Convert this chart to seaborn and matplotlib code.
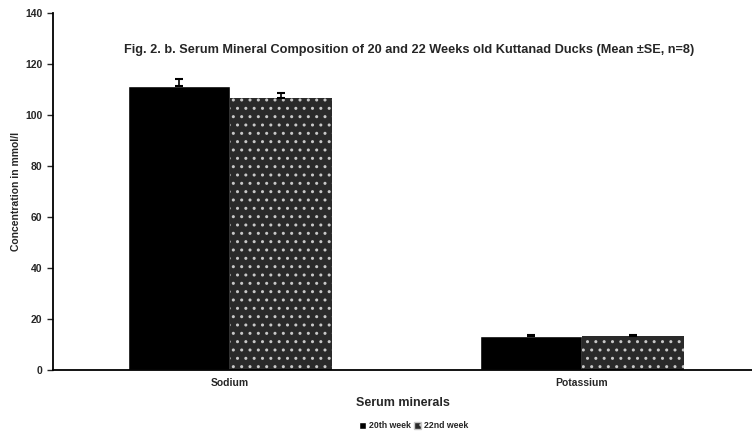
import pandas as pd
import seaborn as sns
import matplotlib.pyplot as plt

minerals = ["Sodium", "Potassium"]
weeks = ["20th week", "22nd week"]
mean_20 = [111.3, 13.3]
mean_22 = [106.6, 13.4]
se_20 = [3.0, 0.3]
se_22 = [2.0, 0.3]

df = pd.DataFrame({
    "mineral": minerals * 2,
    "week": [weeks[0]] * 2 + [weeks[1]] * 2,
    "value": mean_20 + mean_22,
    "se": se_20 + se_22,
})

sns.set_style("white")
plt.rcParams["font.family"] = ["Liberation Sans", "DejaVu Sans"]
plt.rcParams["font.weight"] = "bold"

fig = plt.figure(figsize=(7.52, 4.36), dpi=100)
ax = fig.add_axes([0.0705, 0.151, 0.9295, 0.819])

sns.barplot(data=df, x="mineral", y="value", hue="week", order=minerals,
            hue_order=weeks, palette=["#000000", "#2a2a2a"], width=0.58,
            errorbar=None, ax=ax, legend=False)

# pattern for 22nd week bars
for p in ax.patches[len(minerals):2 * len(minerals)]:
    p.set_hatch("..")
    p.set_edgecolor("#c8c8c8")
    p.set_linewidth(0)

# error bars (only upper caps shown)
for i, p in enumerate(ax.patches[:2 * len(minerals)]):
    row = df.iloc[i]
    cx = p.get_x() + p.get_width() / 2
    ax.errorbar(cx, row["value"], yerr=[[0], [row["se"]]], fmt="none",
                ecolor="black", elinewidth=1.2, capsize=3, capthick=1.5)

ax.set_ylim(0, 140)
ax.set_xlim(-0.503, 1.483)
ax.set_yticks(range(0, 141, 20))
ax.tick_params(axis="y", direction="out", length=4, width=1, labelsize=7.5, left=True)
ax.tick_params(axis="x", length=0, labelsize=7.5, pad=6)
for lab in ax.get_xticklabels() + ax.get_yticklabels():
    lab.set_fontweight("bold")
sns.despine(ax=ax, top=True, right=True)
ax.spines["left"].set_linewidth(1.3)
ax.spines["bottom"].set_linewidth(1.3)
ax.spines["left"].set_color("black")
ax.spines["bottom"].set_color("black")

ax.set_ylabel("Concentration in mmol/l", fontsize=7.5, fontweight="bold", labelpad=3)
ax.set_xlabel("Serum minerals", fontsize=9, fontweight="bold", labelpad=6)
ax.text(0.51, 0.898, "Fig. 2. b. Serum Mineral Composition of 20 and 22 Weeks old Kuttanad Ducks (Mean \u00b1SE, n=8)",
        transform=ax.transAxes, ha="center", va="center", fontsize=9.2, fontweight="bold")

handles = [plt.Rectangle((0, 0), 1, 1, facecolor="#000000"),
           plt.Rectangle((0, 0), 1, 1, facecolor="#2a2a2a", hatch="..", edgecolor="#c8c8c8")]
fig.legend(handles, weeks, loc="lower center", bbox_to_anchor=(0.55, -0.005), ncol=2,
           frameon=False, fontsize=6.3, handlelength=0.8, handleheight=0.8,
           handletextpad=0.3, columnspacing=0.4)

fig.savefig("out.png", dpi=100)
